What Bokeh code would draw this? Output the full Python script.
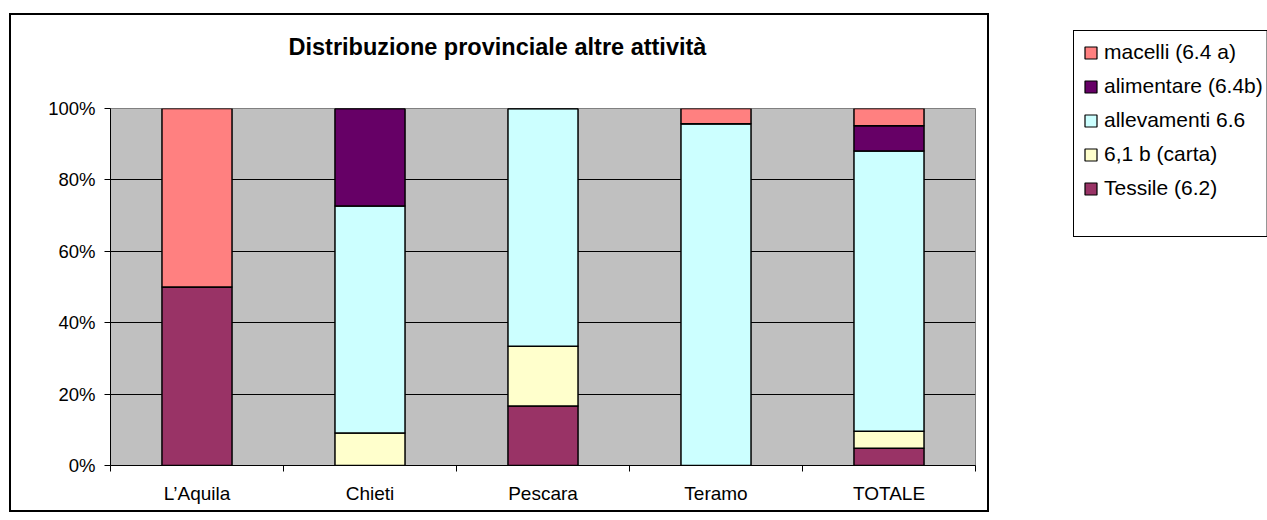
from bokeh.plotting import figure
from bokeh.layouts import row, column
from bokeh.models import (ColumnDataSource, Range1d, LinearAxis, FixedTicker, PrintfTickFormatter,
                          Legend, LegendItem, Spacer)
from bokeh.embed import file_html
from bokeh.resources import INLINE

# ---- data (percent of each province) ----
categories = ["L\u2019Aquila", "Chieti", "Pescara", "Teramo", "TOTALE"]
tessile = [50.0, 0.0, 16.7, 0.0, 4.8]        # Tessile (6.2)
carta = [0.0, 9.1, 16.7, 0.0, 4.8]           # 6,1 b (carta)
allevamenti = [0.0, 63.6, 66.6, 95.7, 78.5]  # allevamenti 6.6
alimentare = [0.0, 27.3, 0.0, 0.0, 7.1]      # alimentare (6.4b)
macelli = [50.0, 0.0, 0.0, 4.3, 4.8]         # macelli (6.4 a)
series_keys = ["tessile", "carta", "allevamenti", "alimentare", "macelli"]
series_labels = ["Tessile (6.2)", "6,1 b (carta)", "allevamenti 6.6", "alimentare (6.4b)", "macelli (6.4 a)"]
series_colors = ["#993366", "#FFFFCC", "#CCFFFF", "#660066", "#FF8080"]
y_ticks = [0, 20, 40, 60, 80, 100]
title_text = "Distribuzione provinciale altre attivit\u00e0"

n = len(categories)
centers = [i + 0.5 for i in range(n)]
boundaries = list(range(n + 1))
src = ColumnDataSource(dict(x=centers, cat=categories, tessile=tessile, carta=carta,
                            allevamenti=allevamenti, alimentare=alimentare, macelli=macelli))

FONT = "Liberation Sans"

# ---------------- main chart ----------------
p = figure(x_range=Range1d(0, n), y_range=Range1d(0, 100),
           frame_width=865, frame_height=357,
           min_border_left=101, min_border_right=14, min_border_top=95, min_border_bottom=47,
           output_backend="svg", toolbar_location=None, tools="",
           x_axis_location=None, y_axis_location=None)
p.background_fill_color = "#C0C0C0"
p.border_fill_alpha = 0
p.outline_line_color = "#808080"
p.outline_line_width = 1
p.styles = {"outline": "2px solid black", "outline-offset": "-2px"}

renderers = p.vbar_stack(series_keys, x="x", width=0.405, source=src,
                         fill_color=series_colors, line_color="black", line_width=1.5)

yax = LinearAxis(ticker=FixedTicker(ticks=y_ticks), formatter=PrintfTickFormatter(format="%d%%"))
yax.axis_line_color = "black"
yax.major_tick_line_color = "black"
yax.major_tick_in = 0
yax.major_tick_out = 6
yax.minor_tick_line_color = None
yax.major_label_text_font = FONT
yax.major_label_text_font_size = "18.5px"
yax.major_label_text_color = "black"
yax.major_label_standoff = 9
p.add_layout(yax, "left")

xax = LinearAxis(ticker=FixedTicker(ticks=centers, minor_ticks=boundaries),
                 major_label_overrides={c: lab for c, lab in zip(centers, categories)})
xax.axis_line_color = "black"
xax.major_tick_line_color = None
xax.major_tick_in = 0
xax.major_tick_out = 6
xax.minor_tick_line_color = "black"
xax.minor_tick_in = 0
xax.minor_tick_out = 6
xax.major_label_text_font = FONT
xax.major_label_text_font_size = "19px"
xax.major_label_text_color = "black"
xax.major_label_standoff = 11
p.add_layout(xax, "below")

# invisible spacer axis between the frame and the title (one hidden tick gives it extent)
gap = LinearAxis(ticker=FixedTicker(ticks=[centers[2]]), major_label_overrides={centers[2]: ""})
gap.axis_line_color = None
gap.major_tick_line_color = None
gap.minor_tick_line_color = None
gap.major_tick_in = 0
gap.major_tick_out = 47
gap.minor_tick_out = 0
gap.major_label_standoff = 0
gap.major_label_text_font_size = "1px"
p.add_layout(gap, "above")

p.xgrid.visible = False
p.ygrid.ticker = FixedTicker(ticks=y_ticks)
p.ygrid.grid_line_color = "black"
p.ygrid.grid_line_width = 1

p.title.text = title_text
p.title.align = "left"
p.title.offset = 178
p.title.vertical_align = "top"
p.title.standoff = 0
p.title.text_font = FONT
p.title.text_font_style = "bold"
p.title.text_font_size = "23.5px"
p.title.text_color = "black"

# ---------------- legend box (separate small figure) ----------------
pl = figure(x_range=Range1d(-20, -19), y_range=Range1d(0, 1),
            width=194, height=207,
            min_border_left=0, min_border_right=0, min_border_top=0, min_border_bottom=0,
            output_backend="svg", toolbar_location=None, tools="",
            x_axis_location=None, y_axis_location=None)
pl.background_fill_alpha = 0
pl.border_fill_alpha = 0
pl.outline_line_color = None
pl.xgrid.visible = False
pl.ygrid.visible = False
pl.styles = {"box-shadow": "inset 1px 1px 0 0 black, inset 0 -1px 0 0 black"}

leg_renderers = pl.vbar_stack(series_keys, x="x", width=0.405, source=src,
                              fill_color=series_colors, line_color="black", line_width=1.2)
items = [LegendItem(label=lab, renderers=[r]) for lab, r in zip(series_labels, leg_renderers)][::-1]
legend = Legend(items=items, location="top_left")
legend.label_text_font = FONT
legend.label_text_font_size = "21px"
legend.label_text_color = "black"
legend.glyph_width = 15
legend.glyph_height = 15
legend.label_height = 24
legend.label_standoff = 6
legend.spacing = 10
legend.padding = 10
legend.margin = 10
legend.border_line_color = None
legend.background_fill_alpha = 0
pl.add_layout(legend, "center")

layout = column(Spacer(height=13),
                row(Spacer(width=9), p, Spacer(width=84), column(Spacer(height=17), pl)))

open("out.html", "w").write(file_html(layout, INLINE))
